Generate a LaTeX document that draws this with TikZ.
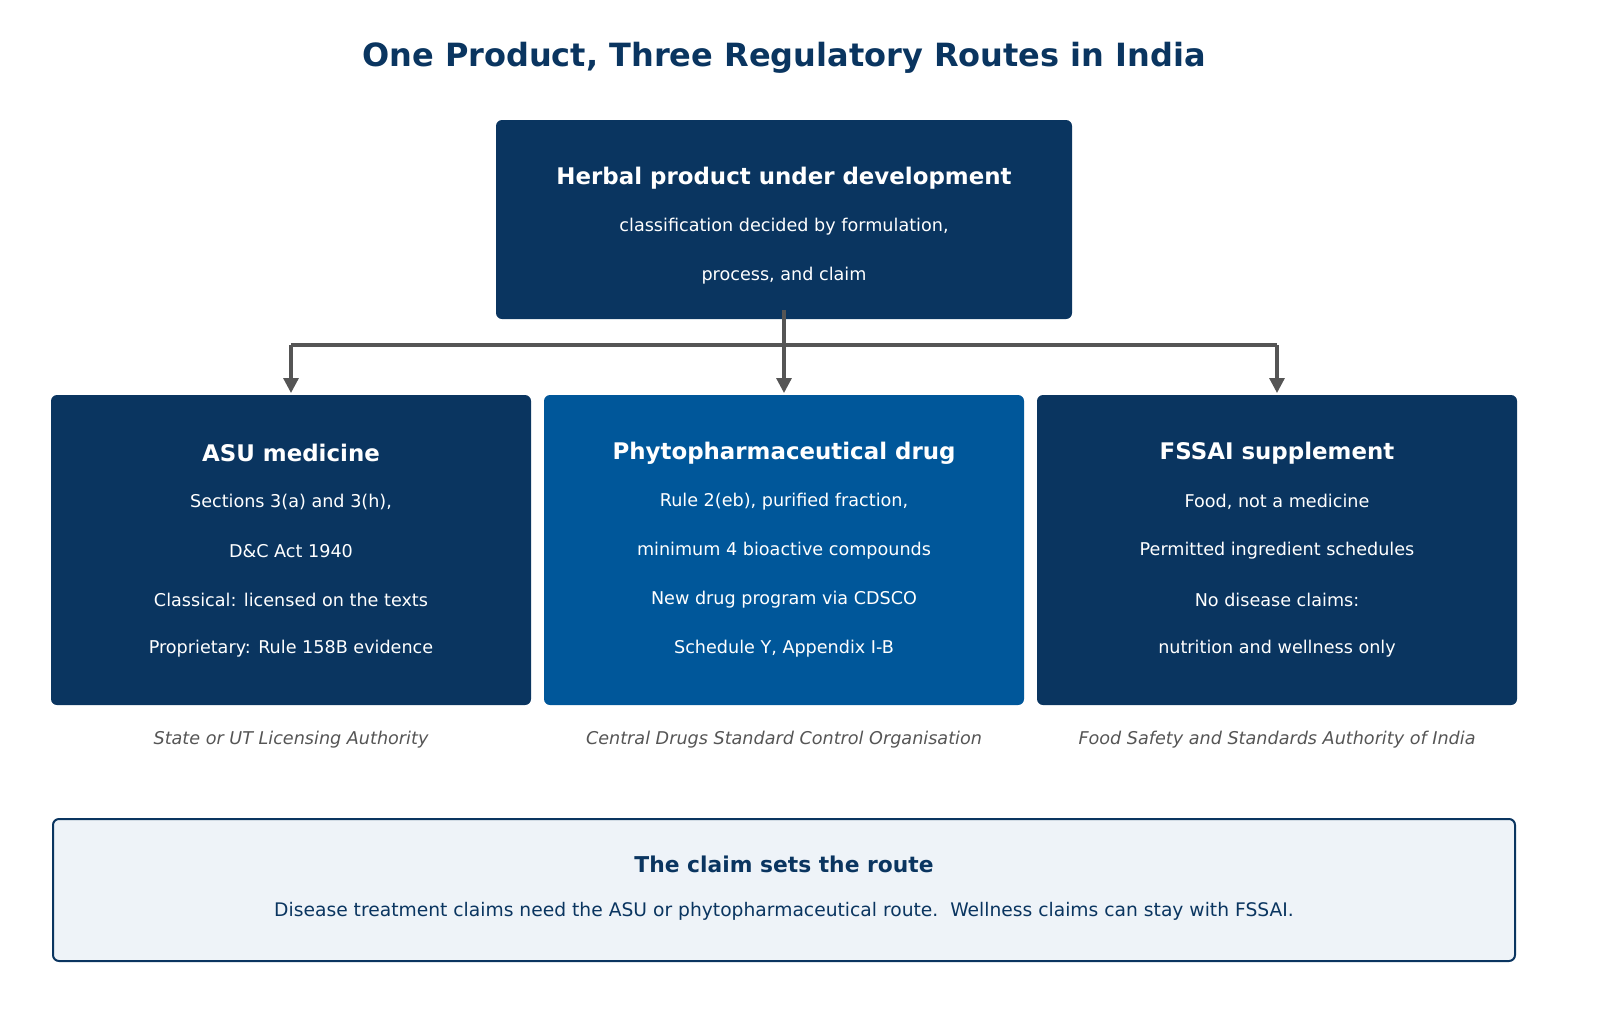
\documentclass[tikz,border=0pt]{standalone}
\usepackage{fontspec}
\setmainfont{DejaVu Sans}
\usetikzlibrary{arrows.meta}
\definecolor{navy}{HTML}{0A3560}
\definecolor{mid}{HTML}{00579A}
\definecolor{arr}{HTML}{555555}
\definecolor{pale}{HTML}{EEF3F8}
\begin{document}
\begin{tikzpicture}[x=1pt,y=-1pt,
 box/.style={rounded corners=6pt,fill=navy,draw=none},
 t/.style={text=white,font=\fontsize{17.6}{20}\selectfont,anchor=center},
 h/.style={text=white,font=\fontsize{22.9}{26}\selectfont\bfseries,anchor=center},
 lab/.style={text=arr,font=\fontsize{17.6}{20}\selectfont\itshape},
 con/.style={draw=arr,line width=3.2pt},
 tip/.style={con,-{Triangle[length=15pt,width=15pt]}}]
\useasboundingbox (0,0) rectangle (1600,1029);
\node[text=navy,font=\fontsize{32}{36}\selectfont\bfseries] (title) at (784,58) {One Product, Three Regulatory Routes in India};
\fill[box] (496,120) rectangle (1072,319);
\node[h] (top) at (784,178) {Herbal product under development};
\node[t] at (784,227) {classification decided by formulation,};
\node[t] at (784,276) {process, and claim};
\coordinate (s) at (784,310);
\coordinate (j) at (784,345);
\coordinate (l) at (291,345);
\coordinate (r) at (1277,345);
\coordinate (la) at (291,393);
\coordinate (ma) at (784,393);
\coordinate (ra) at (1277,393);
\draw[con] (s) -- (j);
\draw[con] (l) -- (r);
\draw[tip] (l) -- (la);
\draw[tip] (j) -- (ma);
\draw[tip] (r) -- (ra);
\fill[box] (51,395) rectangle (531,705);
\fill[box,fill=mid] (544,395) rectangle (1024,705);
\fill[box] (1037,395) rectangle (1517,705);
\node[h] (a) at (291,453) {ASU medicine};
\node[t] at (291,502) {Sections 3(a) and 3(h),};
\node[t] at (291,551) {D\&C Act 1940};
\node[t] at (291,600) {Classical: licensed on the texts};
\node[t] at (291,649) {Proprietary: Rule 158B evidence};
\node[h] (b) at (784,453) {Phytopharmaceutical drug};
\node[t] at (784,502) {Rule 2(eb), purified fraction,};
\node[t] at (784,551) {minimum 4 bioactive compounds};
\node[t] at (784,600) {New drug program via CDSCO};
\node[t] at (784,649) {Schedule Y, Appendix I-B};
\node[h] (c) at (1277,453) {FSSAI supplement};
\node[t] at (1277,502) {Food, not a medicine};
\node[t] at (1277,551) {Permitted ingredient schedules};
\node[t] at (1277,600) {No disease claims:};
\node[t] at (1277,649) {nutrition and wellness only};
\node[lab] (la1) at (291,740) {State or UT Licensing Authority};
\node[lab] (la2) at (784,740) {Central Drugs Standard Control Organisation};
\node[lab] (la3) at (1277,740) {Food Safety and Standards Authority of India};
\draw[rounded corners=6pt,fill=pale,draw=navy,line width=2pt] (53,819) rectangle (1515,961);
\node[text=navy,font=\fontsize{21.8}{26}\selectfont\bfseries] (bt) at (784,864) {The claim sets the route};
\node[text=navy,font=\fontsize{18.7}{22}\selectfont] (bx) at (784,911) {Disease treatment claims need the ASU or phytopharmaceutical route.\ \ Wellness claims can stay with FSSAI.};
\end{tikzpicture}
\end{document}
